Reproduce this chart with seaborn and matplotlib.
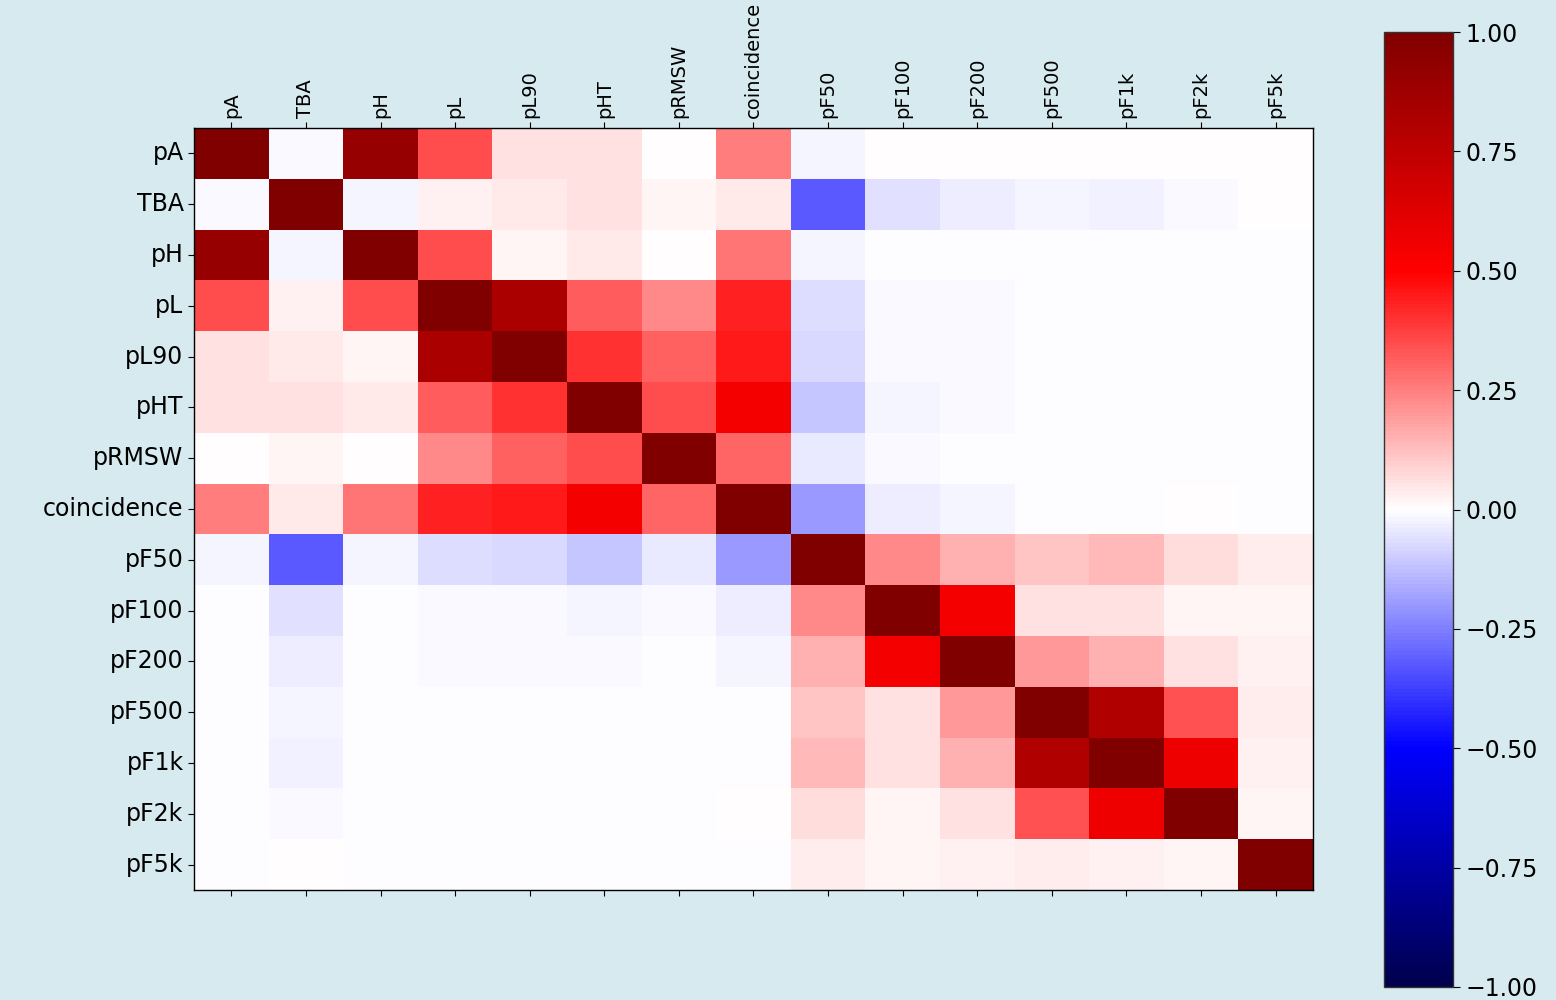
import matplotlib
matplotlib.use("Agg")
import matplotlib.pyplot as plt
import pandas as pd
import seaborn as sns

# variable names (row/column order)
labels = ["pA", "TBA", "pH", "pL", "pL90", "pHT", "pRMSW", "coincidence",
          "pF50", "pF100", "pF200", "pF500", "pF1k", "pF2k", "pF5k"]

# correlation rows
r_pA = [1.00, -0.01, 0.91, 0.35, 0.055, 0.055, 0.00, 0.25, -0.02, 0.0, 0.0, 0.0, 0.0, 0.0, 0.0]
r_TBA = [-0.01, 1.00, -0.02, 0.025, 0.04, 0.055, 0.02, 0.04, -0.325, -0.06, -0.035, -0.02, -0.03, -0.01, 0.003]
r_pH = [0.91, -0.02, 1.00, 0.35, 0.02, 0.04, 0.00, 0.27, -0.02, -0.002, -0.002, -0.002, -0.002, -0.002, -0.002]
r_pL = [0.35, 0.025, 0.35, 1.00, 0.83, 0.32, 0.23, 0.43, -0.065, -0.01, -0.01, -0.003, -0.003, -0.003, -0.003]
r_pL90 = [0.055, 0.04, 0.02, 0.83, 1.00, 0.40, 0.31, 0.45, -0.075, -0.01, -0.01, -0.003, -0.003, -0.003, -0.003]
r_pHT = [0.055, 0.055, 0.04, 0.32, 0.40, 1.00, 0.35, 0.54, -0.115, -0.02, -0.01, -0.003, -0.003, -0.003, -0.003]
r_pRMSW = [0.00, 0.02, 0.00, 0.23, 0.31, 0.35, 1.00, 0.30, -0.045, -0.01, -0.003, -0.002, -0.002, -0.002, -0.002]
r_coinc = [0.25, 0.04, 0.27, 0.43, 0.45, 0.54, 0.30, 1.00, -0.20, -0.035, -0.02, -0.002, -0.002, 0.003, -0.002]
r_pF50 = [-0.02, -0.325, -0.02, -0.065, -0.075, -0.115, -0.045, -0.20, 1.00, 0.23, 0.15, 0.11, 0.135, 0.067, 0.037]
r_pF100 = [-0.002, -0.06, -0.002, -0.01, -0.01, -0.02, -0.01, -0.035, 0.23, 1.00, 0.54, 0.06, 0.055, 0.02, 0.02]
r_pF200 = [-0.002, -0.035, -0.002, -0.01, -0.01, -0.01, -0.003, -0.02, 0.15, 0.54, 1.00, 0.20, 0.15, 0.06, 0.03]
r_pF500 = [-0.002, -0.02, -0.002, -0.003, -0.003, -0.003, -0.002, -0.002, 0.11, 0.06, 0.20, 1.00, 0.81, 0.34, 0.037]
r_pF1k = [-0.002, -0.03, -0.002, -0.003, -0.003, -0.003, -0.002, -0.002, 0.135, 0.055, 0.15, 0.81, 1.00, 0.57, 0.025]
r_pF2k = [-0.002, -0.01, -0.002, -0.003, -0.003, -0.003, -0.002, 0.003, 0.067, 0.02, 0.06, 0.34, 0.57, 1.00, 0.02]
r_pF5k = [-0.002, 0.003, -0.002, -0.003, -0.003, -0.003, -0.002, -0.002, 0.037, 0.02, 0.03, 0.037, 0.025, 0.02, 1.00]

cbar_ticks = [-1.0, -0.75, -0.5, -0.25, 0.0, 0.25, 0.5, 0.75, 1.0]

rows = [r_pA, r_TBA, r_pH, r_pL, r_pL90, r_pHT, r_pRMSW, r_coinc,
        r_pF50, r_pF100, r_pF200, r_pF500, r_pF1k, r_pF2k, r_pF5k]
corr = pd.DataFrame(rows, index=labels, columns=labels)

bg = "#d6eaef"
fig = plt.figure(figsize=(15.56, 10), dpi=100, facecolor=bg)
ax = fig.add_axes([0.1247, 0.110, 0.7191, 0.762])
cax = fig.add_axes([0.8895, 0.013, 0.0445, 0.955])

sns.heatmap(corr, cmap="seismic", vmin=-1, vmax=1, ax=ax, cbar_ax=cax,
            cbar_kws={"ticks": cbar_ticks})

# matshow-like ticks: labels on top, tick marks on both sides
ax.tick_params(axis="x", top=True, bottom=True, labeltop=True, labelbottom=False,
               labelrotation=90, labelsize=14, length=4)
ax.tick_params(axis="y", left=True, labelrotation=0, labelsize=17, length=4)
for side in ["top", "bottom", "left", "right"]:
    ax.spines[side].set_visible(True)
    ax.spines[side].set_color("black")
    ax.spines[side].set_linewidth(1)

cax.tick_params(labelsize=17, length=5)
cbar = ax.collections[0].colorbar
cbar.outline.set_visible(True)
cbar.outline.set_edgecolor("#333333")
cbar.outline.set_linewidth(1)

fig.savefig("out.png", dpi=100, facecolor=bg)
